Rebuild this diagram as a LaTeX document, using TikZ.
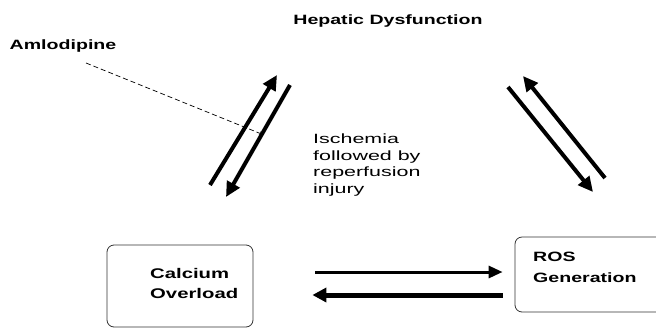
\documentclass[tikz,border=0pt]{standalone}
\usepackage{fontspec}
\setmainfont{Liberation Sans}
\newfontfamily\wideb[FakeStretch=1.45]{Liberation Sans}
\newfontfamily\wider[FakeStretch=1.6]{Liberation Sans}
\usetikzlibrary{arrows.meta,positioning}
\tikzset{
  box/.style={draw=black!80,line width=0.8pt,rounded corners=7pt,inner sep=0pt},
  head/.style={font=\wideb\bfseries\fontsize{13.5}{16}\selectfont,inner sep=0pt},
  blab/.style={font=\wideb\bfseries\fontsize{14}{20.5}\selectfont,inner sep=0pt,align=left},
  lab/.style={font=\wider\fontsize{13.4}{16.5}\selectfont,inner sep=0pt,align=left},
  fat/.style={-{Triangle[length=15pt,width=14pt]},line width=4pt},
  rarr/.style={-{Triangle[length=14pt,width=12pt]},line width=3pt},
  larr/.style={-{Triangle[length=14pt,width=14pt]},line width=5pt},
  drug/.style={-{Stealth[length=5pt]},line width=0.7pt,dash pattern=on 5pt off 3pt},
}

\begin{document}
\begin{tikzpicture}[x=1pt,y=-1pt]
\useasboundingbox (0,0) rectangle (656,330);
% labels
\node[head,anchor=base] (hep) at (388,24) {Hepatic Dysfunction};
\node[head,anchor=base] (aml) at (63,49.5) {Amlodipine};
\node[lab,anchor=north west] (isch) at (313,134) {Ischemia\\followed by\\reperfusion\\injury};
% boxes
\node[box,minimum width=146pt,minimum height=82pt] (calc) at (180,286) {};
\node[blab,anchor=north west] (calclab) at (150,268) {Calcium\\Overload};
\node[box,minimum width=175pt,minimum height=75pt] (ros) at (602.5,274.5) {};
\node[blab,anchor=north west,font=\wideb\bfseries\fontsize{13.5}{21}\selectfont] (roslab) at (533,252) {ROS\\Generation};
% arrow ends
\coordinate (lu0) at (210,185); \coordinate (lu1) at (277,75);
\coordinate (ld0) at (290,85);  \coordinate (ld1) at (226,197);
\coordinate (rd0) at (508,87);  \coordinate (rd1) at (593,192);
\coordinate (ru0) at (605,178); \coordinate (ru1) at (523,76);
\coordinate (drugend) at (264,135);
\draw[fat] (lu0)--(lu1); \draw[fat] (ld0)--(ld1);
\draw[fat] (rd0)--(rd1); \draw[fat] (ru0)--(ru1);
\draw[rarr] ([shift={(62,-14)}]calc.east)--([shift={(-12,-2.5)}]ros.west);
\draw[larr] ([shift={(-12,20.5)}]ros.west)--([shift={(59,9)}]calc.east);
\draw[drug] ([shift={(23,10.5)}]aml.south)--(drugend);
\end{tikzpicture}
\end{document}
